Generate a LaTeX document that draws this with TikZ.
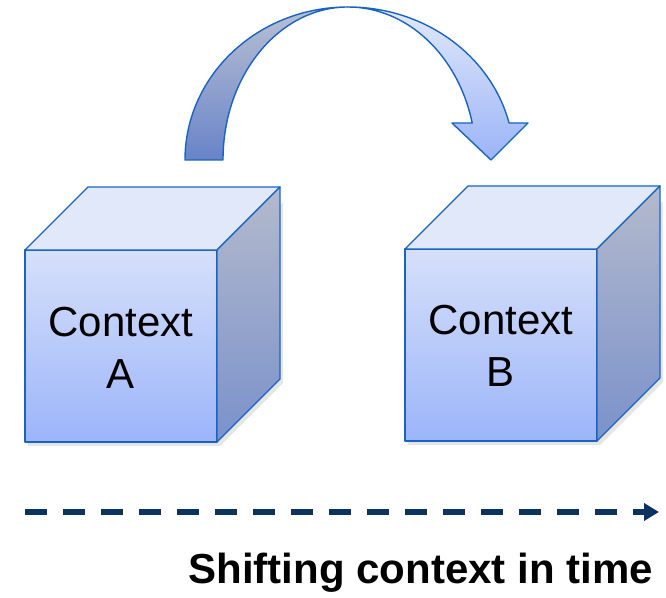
\documentclass[tikz,border=0pt]{standalone}
\usepackage{fontspec}
\setmainfont{Liberation Sans}
\usetikzlibrary{arrows.meta,shadows}
\definecolor{edgeblue}{RGB}{25,100,195}
\definecolor{frontTop}{RGB}{214,224,250}
\definecolor{frontBot}{RGB}{156,181,250}
\definecolor{topFace}{RGB}{224,232,250}
\definecolor{sideTop}{RGB}{180,186,204}
\definecolor{sideBot}{RGB}{122,145,203}
\definecolor{arrLTop}{RGB}{186,192,210}
\definecolor{arrLBot}{RGB}{104,132,200}
\definecolor{arrRTop}{RGB}{226,233,250}
\definecolor{arrRBot}{RGB}{155,180,247}
\definecolor{navy}{RGB}{11,50,96}
\tikzset{
  faceline/.style={draw=edgeblue, line width=1.4pt, line join=round},
  frontface/.style={faceline, top color=frontTop, bottom color=frontBot},
  topface/.style={faceline, fill=topFace},
  sideface/.style={faceline, top color=sideTop, bottom color=sideBot},
  cubelabel/.style={font=\fontsize{42}{52}\selectfont, align=center, anchor=base, inner sep=0pt},
  timeline/.style={draw=navy, line width=6pt, dash pattern=on 22pt off 16pt, -{Triangle[length=15pt,width=17pt]}},
  softshadow/.style={fill=black, opacity=0.10}
}
\newcommand{\mycube}[3]{%
  % #1 = x, #2 = y of lower-left front corner, #3 = name
  \fill[softshadow] (#1+3,#2-4) -- (#1+195,#2-4) -- (#1+258,#2+59) -- (#1+258,#2+240) -- (#1+195,#2+177) -- (#1+3,#2+177) -- cycle;
  \path[frontface] (#1,#2) rectangle (#1+192,#2+192);
  \path[topface] (#1,#2+192) -- (#1+63,#2+255) -- (#1+255,#2+255) -- (#1+192,#2+192) -- cycle;
  \path[sideface] (#1+192,#2) -- (#1+255,#2+63) -- (#1+255,#2+255) -- (#1+192,#2+192) -- cycle;
}
\begin{document}
\begin{tikzpicture}[x=1pt,y=1pt]
\useasboundingbox (0,0) rectangle (666,597);
% cubes
\mycube{25}{155}{A}
\mycube{405}{156}{B}
\node[cubelabel] (ctxA) at (121,208) {Context\\A};
\node[cubelabel] (ctxB) at (501,210) {Context\\B};
% curved arrow: left (back) part
\path[faceline, top color=arrLTop, bottom color=arrLBot]
  (185,437) arc[start angle=180, end angle=90, x radius=163, y radius=153]
  arc[start angle=90, end angle=180, x radius=125, y radius=153] -- cycle;
% curved arrow: right (front) part with head
\path[faceline, top color=arrRTop, bottom color=arrRBot]
  (348,590) arc[start angle=90, end angle=14, x radius=166, y radius=153]
  -- (528,474) -- (491,437) -- (452,474) -- (472.2,474)
  arc[start angle=14, end angle=90, x radius=128, y radius=153] -- cycle;
% time line
\coordinate (tstart) at (25,85);
\coordinate (tend) at (659,85);
\draw[timeline] (tstart) -- (tend);
\node[font=\bfseries\fontsize{42}{50}\selectfont, anchor=base east, inner sep=0pt] (caption) at (653,14) {Shifting context in time};
\end{tikzpicture}
\end{document}
